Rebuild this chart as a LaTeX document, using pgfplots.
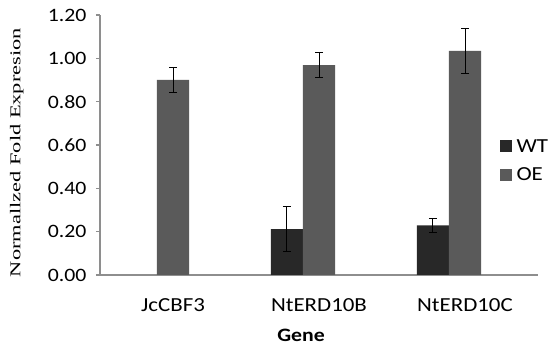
\documentclass[border=0pt]{standalone}
\usepackage{pgfplots}
\pgfplotsset{compat=1.18}
\usepackage{fontspec}
\setmainfont[FakeStretch=1.15]{Carlito}
\newfontfamily\timesf[FakeStretch=1.5]{Liberation Serif}
\definecolor{wtc}{HTML}{282828}
\definecolor{oec}{HTML}{5A5A5A}
\definecolor{axc}{HTML}{8E8E8E}
\begin{document}
\begin{tikzpicture}
\useasboundingbox (0,0) rectangle (548bp,347bp);
\begin{axis}[
  at={(100bp,72bp)}, anchor=south west,
  scale only axis, width=438bp, height=260bp,
  ybar, bar width=0.22,
  xmin=-0.5, xmax=2.5, ymin=0, ymax=1.2,
  axis lines*=left,
  axis line style={axc, line width=1.6pt},
  xtick={0,1,2},
  xticklabels={JcCBF3,NtERD10B,NtERD10C},
  x tick style={draw=none},
  extra x ticks={0.5,1.5,2.5},
  extra x tick labels={},
  extra x tick style={major tick length=6bp, tick align=inside, tick style={axc, line width=1.4pt, draw=axc}},
  ytick={0,0.2,0.4,0.6,0.8,1.0,1.2},
  y tick style={axc, line width=1.2pt},
  tick align=outside, major tick length=4bp,
  /pgf/number format/fixed, /pgf/number format/fixed zerofill, /pgf/number format/precision=2, /pgf/number format/assume math mode=true,
  ticklabel style={font=\fontsize{19}{22}\selectfont, text=black},
  yticklabel style={xshift=-6bp},
  xticklabel style={yshift=-16bp, font=\fontsize{20}{24}\selectfont},
  xlabel={\textbf{Gene}},
  xlabel style={font=\fontsize{19}{22}\selectfont, at={(axis description cs:0.459,0)}, anchor=north, yshift=-51bp},
  ylabel={\timesf Normallzed Fold Expresion},
  ylabel style={font=\fontsize{15}{18}\selectfont, at={(axis description cs:-0.19,0.471)}, anchor=center},
  legend style={at={(0.905,0.44)}, anchor=west, draw=none, fill=none, font=\fontsize{20}{24}\selectfont, row sep=10bp, legend cell align=left},
  legend image code/.code={\fill[#1] (0bp,-6bp) rectangle (12bp,6bp);},
  error bars/error bar style={black, line width=1pt},
  error bars/error mark options={rotate=90, mark size=4bp, line width=1pt, black},
]
\addplot[fill=wtc, draw=none, bar shift=-0.22, error bars/.cd, y dir=both, y explicit]
  coordinates {(1,0.212) +- (0,0.102) (2,0.229) +- (0,0.032)};
\addlegendentry{\hspace{3bp}WT}
\addplot[fill=oec, draw=none, bar shift=0, error bars/.cd, y dir=both, y explicit]
  coordinates {(0,0.90) +- (0,0.057) (1,0.969) +- (0,0.058) (2,1.034) +- (0,0.102)};
\addlegendentry{\hspace{3bp}OE}
\end{axis}
\end{tikzpicture}
\end{document}
